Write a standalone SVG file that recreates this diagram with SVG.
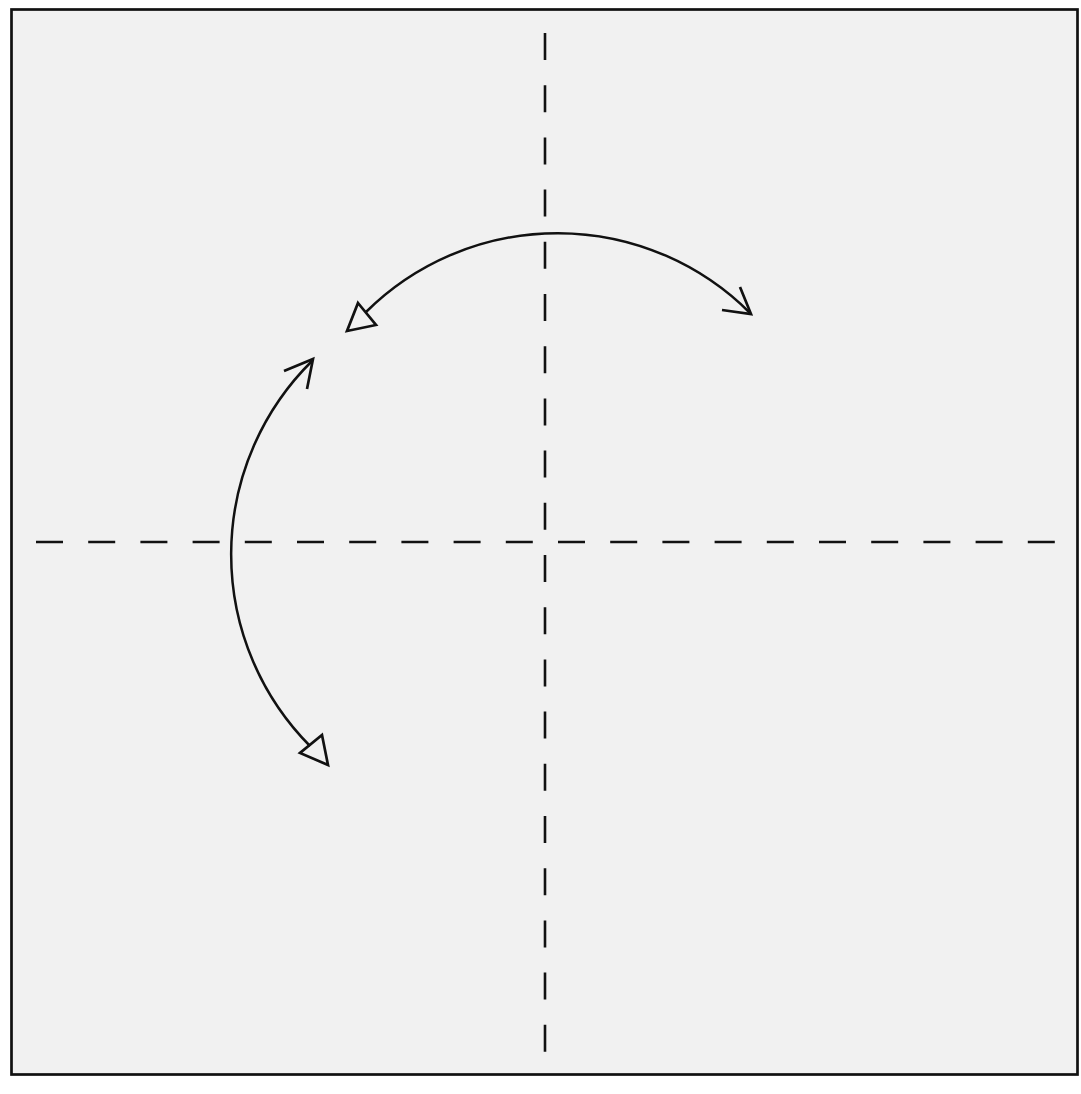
<svg xmlns="http://www.w3.org/2000/svg" width="1081" height="1094" viewBox="0 0 1081 1094">
<style>
.fold{stroke:#111;stroke-width:2.6;stroke-dasharray:27 25.2;fill:none}
.arc{stroke:#111;stroke-width:2.5;fill:none}
.head{stroke:#111;stroke-width:2.7;fill:none;stroke-linejoin:miter}
</style>
<rect x="11.5" y="9.5" width="1066" height="1065" fill="#f1f1f1" stroke="#111" stroke-width="2.7"/>
<g id="folds">
<line class="fold" x1="545" y1="33" x2="545" y2="1052"/>
<line class="fold" x1="36" y1="542" x2="1056" y2="542"/>
</g>
<g id="connectors">
<path class="arc" d="M366,312 A272,272 0 0 1 750,313"/>
<polygon class="head" points="358,303 376,325 347,331"/>
<polyline class="head" points="740,287 751,314 722,310"/>
<path class="arc" d="M312,361 A272,272 0 0 0 310,746"/>
<polyline class="head" points="284,371 313,359 307,389"/>
<polygon class="head" points="322,735 328,765 300,753"/>
</g>
</svg>
